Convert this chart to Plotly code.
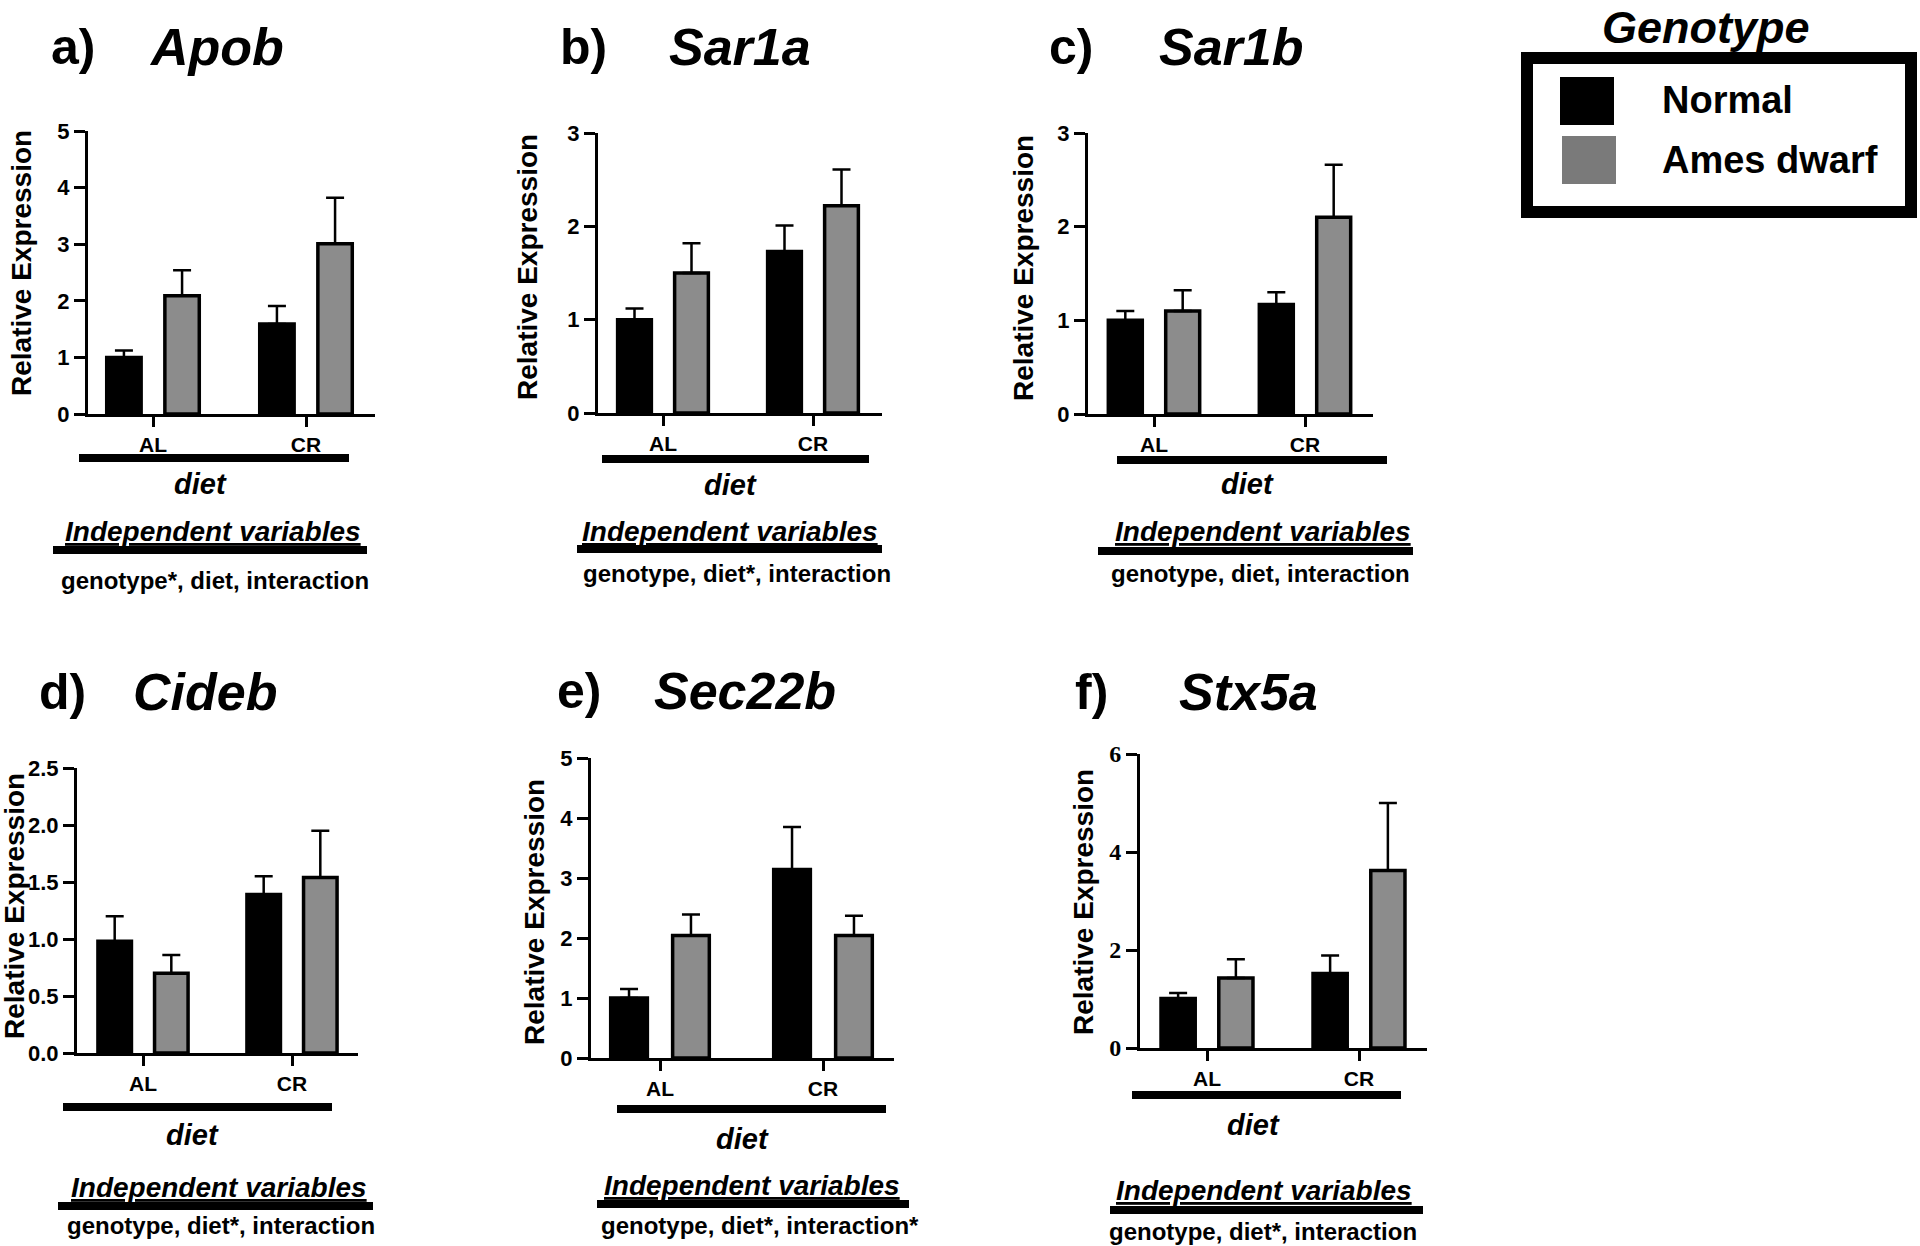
import plotly.graph_objects as go

# ---------------- data ----------------
categories = ["AL", "CR"]
genotypes = ["Normal", "Ames dwarf"]
panel_letters = ["a)", "b)", "c)", "d)", "e)", "f)"]
genes = ["Apob", "Sar1a", "Sar1b", "Cideb", "Sec22b", "Stx5a"]

normal_mean = {
    "Apob": [1.00, 1.59], "Sar1a": [1.00, 1.73], "Sar1b": [1.00, 1.17],
    "Cideb": [0.98, 1.39], "Sec22b": [1.00, 3.14], "Stx5a": [1.01, 1.52],
}
normal_sem = {
    "Apob": [0.12, 0.32], "Sar1a": [0.12, 0.28], "Sar1b": [0.10, 0.13],
    "Cideb": [0.22, 0.16], "Sec22b": [0.15, 0.71], "Stx5a": [0.11, 0.37],
}
dwarf_mean = {
    "Apob": [2.09, 3.01], "Sar1a": [1.50, 2.22], "Sar1b": [1.10, 2.10],
    "Cideb": [0.70, 1.54], "Sec22b": [2.04, 2.04], "Stx5a": [1.43, 3.62],
}
dwarf_sem = {
    "Apob": [0.45, 0.81], "Sar1a": [0.32, 0.39], "Sar1b": [0.22, 0.56],
    "Cideb": [0.16, 0.41], "Sec22b": [0.35, 0.33], "Stx5a": [0.38, 1.38],
}
significance = [
    "genotype*, diet, interaction",
    "genotype, diet*, interaction",
    "genotype, diet, interaction",
    "genotype, diet*, interaction",
    "genotype, diet*, interaction*",
    "genotype, diet*, interaction",
]
y_max = [5, 3, 3, 2.5, 5, 6]
y_dtick = [1, 1, 1, 0.5, 1, 2]
y_tickformat = ["d", "d", "d", ".1f", "d", "d"]

# ---------------- layout geometry (pixels) ----------------
W, H = 1920, 1246
# x0 (y-axis), x1 (x-axis end), AL tick, CR tick, y of 0, y of top
geom = [
    (88, 375, 153, 306, 414, 131),
    (598, 882, 663, 813, 413, 133),
    (1088, 1373, 1154, 1305, 414, 133),
    (77, 358, 143, 292, 1053, 768),
    (591, 894, 660, 823, 1058, 758),
    (1140, 1427, 1207, 1359, 1048, 754),
]
# title: letter left, gene left, y center
title_pos = [(49, 147, 47), (558, 667, 47), (1047, 1157, 47),
             (37, 131, 692), (555, 652, 691), (1073, 1177, 692)]
ytitle_pos = [(21, 263), (527, 267), (1024, 268), (14, 906), (534, 912), (1083, 902)]
# diet bar: x_left, x_right, y ; diet text: x, y
diet_bar = [(79, 349, 458), (602, 869, 459), (1117, 1387, 460),
            (63, 332, 1107), (617, 886, 1109), (1132, 1401, 1095)]
diet_text = [(200, 484), (730, 485), (1247, 484), (192, 1135), (742, 1139), (1253, 1125)]
# independent variables: text x, text y, bar left, bar right, bar y
indep = [(213, 532, 53, 367, 550), (730, 531, 577, 882, 549), (1263, 532, 1098, 1413, 551),
         (219, 1187, 58, 373, 1206), (752, 1185, 597, 909, 1204), (1264, 1190, 1110, 1423, 1210)]
sig_pos = [(215, 580), (737, 573), (1260, 573), (221, 1225), (760, 1225), (1263, 1231)]

def px(x):
    return x / W

def py(y):
    return 1 - y / H

BAR_W = 0.225
OFF = 0.19
colors = ["#000000", "#8c8c8c"]
SANS = "Liberation Sans, Arial, sans-serif"
SERIF = "Liberation Serif, Times New Roman, serif"

fig = go.Figure()
annotations = []
shapes = []

for i, gene in enumerate(genes):
    n = i + 1
    xa = "x" if n == 1 else f"x{n}"
    ya = "y" if n == 1 else f"y{n}"
    x0, x1, tAL, tCR, y0, yt = geom[i]
    unit = tCR - tAL
    xr = [(x0 - tAL) / unit, (x1 - tAL) / unit]

    means = [normal_mean[gene], dwarf_mean[gene]]
    sems = [normal_sem[gene], dwarf_sem[gene]]
    for g in range(2):
        center = -OFF if g == 0 else OFF
        fig.add_trace(go.Bar(
            x=categories, y=means[g], name=genotypes[g],
            xaxis=xa, yaxis=ya,
            width=BAR_W, offset=center - BAR_W / 2,
            marker=dict(color=colors[g], line=dict(color="black", width=3.5)),
            error_y=dict(type="data", array=sems[g], arrayminus=[0, 0], symmetric=False,
                         color="black", thickness=2.5, width=9),
            showlegend=False, cliponaxis=False, hoverinfo="skip",
        ))

    tickfam = SERIF if gene == "Stx5a" else SANS
    fig.layout[("xaxis" if n == 1 else f"xaxis{n}")] = dict(
        domain=[px(x0), px(x1)], anchor=ya, type="category", automargin=False,
        range=xr, showline=True, linecolor="black", linewidth=3,
        ticks="outside", ticklen=10, tickwidth=3, tickcolor="black",
        tickfont=dict(family=SANS, size=21, color="black", weight="bold"),
        showgrid=False, zeroline=False, fixedrange=True,
    )
    fig.layout[("yaxis" if n == 1 else f"yaxis{n}")] = dict(
        domain=[py(y0), py(yt)], anchor=xa, automargin=False,
        range=[0, y_max[i]], dtick=y_dtick[i], tick0=0, tickformat=y_tickformat[i],
        showline=True, linecolor="black", linewidth=3,
        ticks="outside", ticklen=11, tickwidth=3, tickcolor="black",
        tickfont=dict(family=tickfam, size=24 if gene == "Stx5a" else 22, color="black", weight="bold"),
        showgrid=False, zeroline=False, fixedrange=True,
    )

    # panel titles
    lx, gx, ty = title_pos[i]
    annotations.append(dict(x=px(lx), y=py(ty), xref="paper", yref="paper", xanchor="left",
                            yanchor="middle", showarrow=False,
                            text=f"<b>{panel_letters[i]}</b>",
                            font=dict(family=SANS, size=50, color="black")))
    annotations.append(dict(x=px(gx), y=py(ty), xref="paper", yref="paper", xanchor="left",
                            yanchor="middle", showarrow=False,
                            text=f"<b><i>{gene}</i></b>",
                            font=dict(family=SANS, size=52, color="black")))
    # y title
    yx, yy = ytitle_pos[i]
    annotations.append(dict(x=px(yx), y=py(yy), xref="paper", yref="paper", xanchor="center",
                            yanchor="middle", showarrow=False, textangle=-90,
                            text="<b>Relative Expression</b>",
                            font=dict(family=SANS, size=28, color="black")))
    # diet bar + text
    bl, br, by = diet_bar[i]
    shapes.append(dict(type="line", xref="paper", yref="paper", x0=px(bl), x1=px(br),
                       y0=py(by), y1=py(by), line=dict(color="black", width=8)))
    dx, dy = diet_text[i]
    annotations.append(dict(x=px(dx), y=py(dy), xref="paper", yref="paper", xanchor="center",
                            yanchor="middle", showarrow=False, text="<b><i>diet</i></b>",
                            font=dict(family=SANS, size=29, color="black")))
    # independent variables
    ix, iy, il, ir, iby = indep[i]
    annotations.append(dict(x=px(ix), y=py(iy), xref="paper", yref="paper", xanchor="center",
                            yanchor="middle", showarrow=False,
                            text="<b><i><u>Independent variables</u></i></b>",
                            font=dict(family=SANS, size=28, color="black")))
    shapes.append(dict(type="line", xref="paper", yref="paper", x0=px(il), x1=px(ir),
                       y0=py(iby), y1=py(iby), line=dict(color="black", width=8)))
    sx, sy = sig_pos[i]
    annotations.append(dict(x=px(sx), y=py(sy), xref="paper", yref="paper", xanchor="center",
                            yanchor="middle", showarrow=False, text=f"<b>{significance[i]}</b>",
                            font=dict(family=SANS, size=24, color="black")))

# ---------------- legend (drawn) ----------------
annotations.append(dict(x=px(1706), y=py(27), xref="paper", yref="paper", xanchor="center",
                        yanchor="middle", showarrow=False, text="<b><i>Genotype</i></b>",
                        font=dict(family=SANS, size=45, color="black")))
shapes.append(dict(type="rect", xref="paper", yref="paper", x0=px(1527), x1=px(1911),
                   y0=py(58), y1=py(212), line=dict(color="black", width=12)))
legend_sq = [(1560, 1614, 77, 125, "#000000"), (1562, 1616, 136, 184, "#7a7a7a")]
legend_txt_y = [100, 160]
for k, (a, b, c, d, col) in enumerate(legend_sq):
    shapes.append(dict(type="rect", xref="paper", yref="paper", x0=px(a), x1=px(b),
                       y0=py(c), y1=py(d), line=dict(width=0), fillcolor=col))
    annotations.append(dict(x=px(1660), y=py(legend_txt_y[k]), xref="paper", yref="paper",
                            xanchor="left", yanchor="middle", showarrow=False,
                            text=f"<b>{genotypes[k]}</b>",
                            font=dict(family=SANS, size=38, color="black")))

fig.update_layout(
    width=W, height=H, margin=dict(l=0, r=0, t=0, b=0, autoexpand=False),
    paper_bgcolor="white", plot_bgcolor="white",
    barmode="overlay", showlegend=False, hovermode=False,
    font=dict(family=SANS, color="black"),
    annotations=annotations, shapes=shapes,
)

fig.write_html("out.html", config={"displayModeBar": False},
               post_script="document.body.style.margin='0px';")
